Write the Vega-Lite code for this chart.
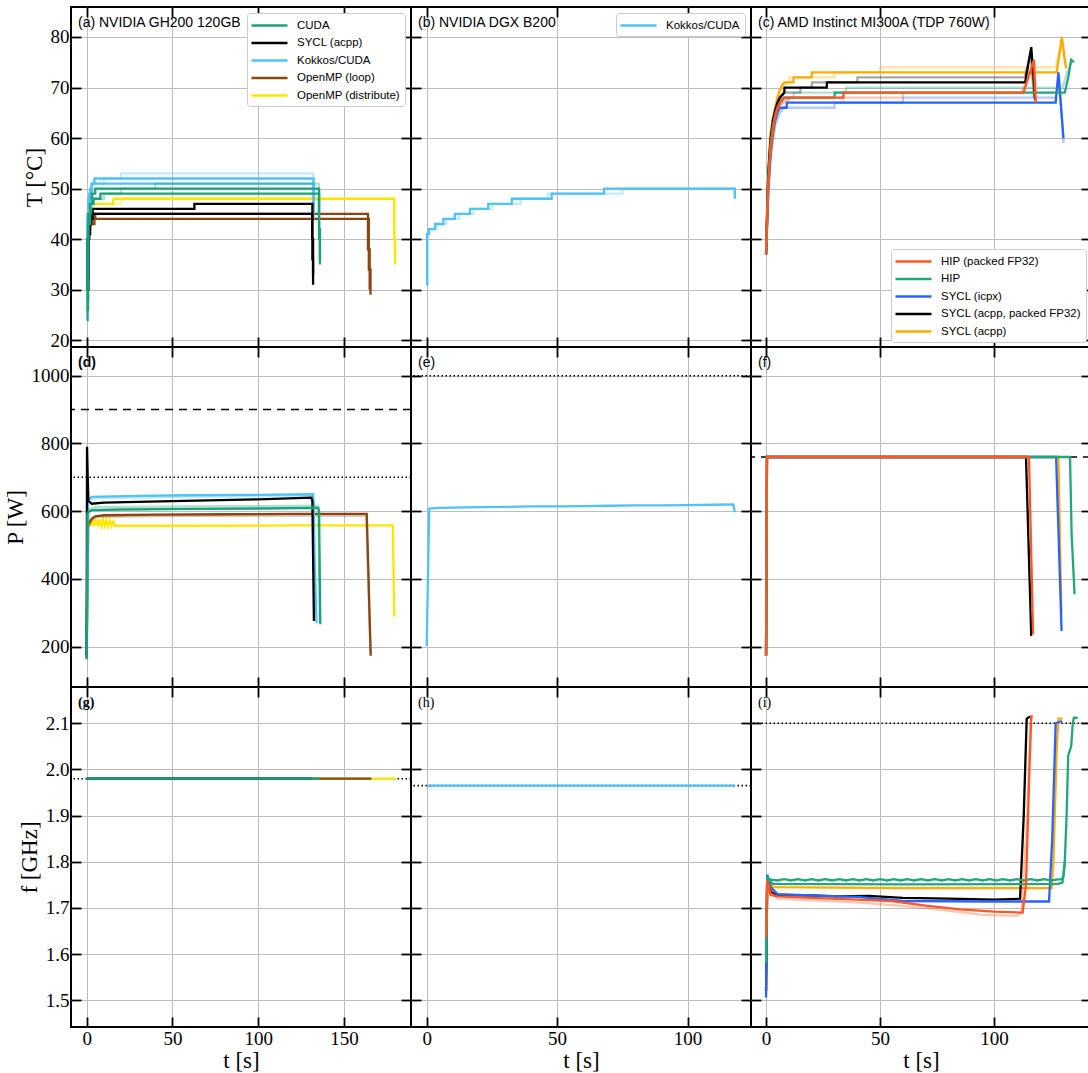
{
"$schema":"https://vega.github.io/schema/vega-lite/v6.json",
"padding":{"left":3,"top":5,"right":0,"bottom":0},
"background":"white",
"datasets":{
"Ta":[
{"t":0,"v":26,"s":"OpenMP (distribute)","r":"d1","k":"main"},{"t":0.5,"v":42,"s":"OpenMP (distribute)","r":"d1","k":"main"},{"t":1,"v":45,"s":"OpenMP (distribute)","r":"d1","k":"main"},{"t":2,"v":47,"s":"OpenMP (distribute)","r":"d1","k":"main"},{"t":15.5,"v":48,"s":"OpenMP (distribute)","r":"d1","k":"main"},{"t":179.3,"v":40,"s":"OpenMP (distribute)","r":"d1","k":"main"},{"t":179.8,"v":35,"s":"OpenMP (distribute)","r":"d1","k":"main"},
{"t":0,"v":30,"s":"OpenMP (distribute)","r":"d2","k":"rep"},{"t":1,"v":44,"s":"OpenMP (distribute)","r":"d2","k":"rep"},{"t":2.5,"v":47,"s":"OpenMP (distribute)","r":"d2","k":"rep"},{"t":20,"v":48,"s":"OpenMP (distribute)","r":"d2","k":"rep"},{"t":179.5,"v":37,"s":"OpenMP (distribute)","r":"d2","k":"rep"},
{"t":0,"v":30,"s":"OpenMP (loop)","r":"l1","k":"main"},{"t":0.7,"v":41,"s":"OpenMP (loop)","r":"l1","k":"main"},{"t":1.5,"v":43,"s":"OpenMP (loop)","r":"l1","k":"main"},{"t":3,"v":44,"s":"OpenMP (loop)","r":"l1","k":"main"},{"t":5,"v":45,"s":"OpenMP (loop)","r":"l1","k":"main"},{"t":164,"v":38,"s":"OpenMP (loop)","r":"l1","k":"main"},{"t":165,"v":30,"s":"OpenMP (loop)","r":"l1","k":"main"},
{"t":0,"v":32,"s":"OpenMP (loop)","r":"l2","k":"main"},{"t":1,"v":42,"s":"OpenMP (loop)","r":"l2","k":"main"},{"t":2,"v":43,"s":"OpenMP (loop)","r":"l2","k":"main"},{"t":4.5,"v":44,"s":"OpenMP (loop)","r":"l2","k":"main"},{"t":164.5,"v":34,"s":"OpenMP (loop)","r":"l2","k":"main"},{"t":165.5,"v":29,"s":"OpenMP (loop)","r":"l2","k":"main"},
{"t":0,"v":28,"s":"Kokkos/CUDA","r":"k1","k":"main"},{"t":0.5,"v":44,"s":"Kokkos/CUDA","r":"k1","k":"main"},{"t":1,"v":48,"s":"Kokkos/CUDA","r":"k1","k":"main"},{"t":2,"v":50,"s":"Kokkos/CUDA","r":"k1","k":"main"},{"t":3,"v":51,"s":"Kokkos/CUDA","r":"k1","k":"main"},{"t":4.5,"v":52,"s":"Kokkos/CUDA","r":"k1","k":"main"},{"t":132.3,"v":45,"s":"Kokkos/CUDA","r":"k1","k":"main"},
{"t":0,"v":30,"s":"Kokkos/CUDA","r":"k2","k":"main"},{"t":0.5,"v":45,"s":"Kokkos/CUDA","r":"k2","k":"main"},{"t":1.5,"v":49,"s":"Kokkos/CUDA","r":"k2","k":"main"},{"t":3,"v":51,"s":"Kokkos/CUDA","r":"k2","k":"main"},{"t":132.3,"v":44,"s":"Kokkos/CUDA","r":"k2","k":"main"},
{"t":0,"v":30,"s":"Kokkos/CUDA","r":"k3","k":"rep"},{"t":1,"v":47,"s":"Kokkos/CUDA","r":"k3","k":"rep"},{"t":3,"v":51,"s":"Kokkos/CUDA","r":"k3","k":"rep"},{"t":10,"v":52,"s":"Kokkos/CUDA","r":"k3","k":"rep"},{"t":20,"v":53,"s":"Kokkos/CUDA","r":"k3","k":"rep"},{"t":132,"v":46,"s":"Kokkos/CUDA","r":"k3","k":"rep"},
{"t":0,"v":30,"s":"SYCL (acpp)","r":"s1","k":"main"},{"t":0.5,"v":40,"s":"SYCL (acpp)","r":"s1","k":"main"},{"t":1.5,"v":43,"s":"SYCL (acpp)","r":"s1","k":"main"},{"t":2.5,"v":45,"s":"SYCL (acpp)","r":"s1","k":"main"},{"t":3.5,"v":46,"s":"SYCL (acpp)","r":"s1","k":"main"},{"t":62.8,"v":47,"s":"SYCL (acpp)","r":"s1","k":"main"},{"t":131.6,"v":36,"s":"SYCL (acpp)","r":"s1","k":"main"},{"t":132,"v":31,"s":"SYCL (acpp)","r":"s1","k":"main"},
{"t":0,"v":30,"s":"SYCL (acpp)","r":"s2","k":"main"},{"t":1,"v":41,"s":"SYCL (acpp)","r":"s2","k":"main"},{"t":2,"v":44,"s":"SYCL (acpp)","r":"s2","k":"main"},{"t":3.5,"v":45,"s":"SYCL (acpp)","r":"s2","k":"main"},{"t":131.5,"v":40,"s":"SYCL (acpp)","r":"s2","k":"main"},{"t":132,"v":33,"s":"SYCL (acpp)","r":"s2","k":"main"},
{"t":0,"v":24,"s":"CUDA","r":"c1","k":"main"},{"t":0.5,"v":40,"s":"CUDA","r":"c1","k":"main"},{"t":1,"v":45,"s":"CUDA","r":"c1","k":"main"},{"t":2,"v":47,"s":"CUDA","r":"c1","k":"main"},{"t":3,"v":49,"s":"CUDA","r":"c1","k":"main"},{"t":5,"v":50,"s":"CUDA","r":"c1","k":"main"},{"t":135.5,"v":42,"s":"CUDA","r":"c1","k":"main"},{"t":136,"v":35,"s":"CUDA","r":"c1","k":"main"},
{"t":0,"v":26,"s":"CUDA","r":"c2","k":"main"},{"t":0.8,"v":43,"s":"CUDA","r":"c2","k":"main"},{"t":2,"v":47,"s":"CUDA","r":"c2","k":"main"},{"t":4,"v":48,"s":"CUDA","r":"c2","k":"main"},{"t":8,"v":49,"s":"CUDA","r":"c2","k":"main"},{"t":135.5,"v":40,"s":"CUDA","r":"c2","k":"main"},{"t":136,"v":36,"s":"CUDA","r":"c2","k":"main"},
{"t":0,"v":28,"s":"CUDA","r":"c3","k":"rep"},{"t":1,"v":45,"s":"CUDA","r":"c3","k":"rep"},{"t":3,"v":48,"s":"CUDA","r":"c3","k":"rep"},{"t":10,"v":49,"s":"CUDA","r":"c3","k":"rep"},{"t":20,"v":50,"s":"CUDA","r":"c3","k":"rep"},{"t":40,"v":51,"s":"CUDA","r":"c3","k":"rep"},{"t":135.3,"v":45,"s":"CUDA","r":"c3","k":"rep"}
],
"Tb":[
{"t":0,"v":31,"s":"Kokkos/CUDA","r":"k1","k":"main"},{"t":0.2,"v":41,"s":"Kokkos/CUDA","r":"k1","k":"main"},{"t":0.8,"v":42,"s":"Kokkos/CUDA","r":"k1","k":"main"},{"t":3.2,"v":43,"s":"Kokkos/CUDA","r":"k1","k":"main"},{"t":6.4,"v":44,"s":"Kokkos/CUDA","r":"k1","k":"main"},{"t":10.8,"v":45,"s":"Kokkos/CUDA","r":"k1","k":"main"},{"t":16.6,"v":46,"s":"Kokkos/CUDA","r":"k1","k":"main"},{"t":23.6,"v":47,"s":"Kokkos/CUDA","r":"k1","k":"main"},{"t":32.6,"v":48,"s":"Kokkos/CUDA","r":"k1","k":"main"},{"t":47.9,"v":49,"s":"Kokkos/CUDA","r":"k1","k":"main"},{"t":68,"v":50,"s":"Kokkos/CUDA","r":"k1","k":"main"},{"t":118.1,"v":48,"s":"Kokkos/CUDA","r":"k1","k":"main"},
{"t":0,"v":31,"s":"Kokkos/CUDA","r":"k2","k":"rep"},{"t":0.3,"v":41,"s":"Kokkos/CUDA","r":"k2","k":"rep"},{"t":1,"v":42,"s":"Kokkos/CUDA","r":"k2","k":"rep"},{"t":4,"v":43,"s":"Kokkos/CUDA","r":"k2","k":"rep"},{"t":7.5,"v":44,"s":"Kokkos/CUDA","r":"k2","k":"rep"},{"t":12.5,"v":45,"s":"Kokkos/CUDA","r":"k2","k":"rep"},{"t":18,"v":46,"s":"Kokkos/CUDA","r":"k2","k":"rep"},{"t":25,"v":47,"s":"Kokkos/CUDA","r":"k2","k":"rep"},{"t":36,"v":48,"s":"Kokkos/CUDA","r":"k2","k":"rep"},{"t":46.5,"v":49,"s":"Kokkos/CUDA","r":"k2","k":"rep"},{"t":75,"v":50,"s":"Kokkos/CUDA","r":"k2","k":"rep"},{"t":118.2,"v":48,"s":"Kokkos/CUDA","r":"k2","k":"rep"}
],
"Tc":[
{"t":0,"v":38,"s":"SYCL (acpp)","r":"a1","k":"main"},{"t":0.5,"v":47,"s":"SYCL (acpp)","r":"a1","k":"main"},{"t":1,"v":54,"s":"SYCL (acpp)","r":"a1","k":"main"},{"t":1.5,"v":58,"s":"SYCL (acpp)","r":"a1","k":"main"},{"t":2,"v":61,"s":"SYCL (acpp)","r":"a1","k":"main"},{"t":3,"v":64,"s":"SYCL (acpp)","r":"a1","k":"main"},{"t":4,"v":66,"s":"SYCL (acpp)","r":"a1","k":"main"},{"t":5,"v":68,"s":"SYCL (acpp)","r":"a1","k":"main"},{"t":6,"v":69.5,"s":"SYCL (acpp)","r":"a1","k":"main"},{"t":7,"v":70.5,"s":"SYCL (acpp)","r":"a1","k":"main"},{"t":8,"v":71,"s":"SYCL (acpp)","r":"a1","k":"main"},{"t":12,"v":71,"s":"SYCL (acpp)","r":"a1","k":"main"},{"t":12.1,"v":72,"s":"SYCL (acpp)","r":"a1","k":"main"},{"t":20,"v":72,"s":"SYCL (acpp)","r":"a1","k":"main"},{"t":20.1,"v":73,"s":"SYCL (acpp)","r":"a1","k":"main"},{"t":127.5,"v":73,"s":"SYCL (acpp)","r":"a1","k":"main"},{"t":129.7,"v":80,"s":"SYCL (acpp)","r":"a1","k":"main"},{"t":131.5,"v":74,"s":"SYCL (acpp)","r":"a1","k":"main"},{"t":132,"v":74,"s":"SYCL (acpp)","r":"a1","k":"main"},
{"t":0,"v":37,"s":"SYCL (acpp)","r":"a2","k":"rep"},{"t":1,"v":52,"s":"SYCL (acpp)","r":"a2","k":"rep"},{"t":2,"v":60,"s":"SYCL (acpp)","r":"a2","k":"rep"},{"t":4,"v":66,"s":"SYCL (acpp)","r":"a2","k":"rep"},{"t":6,"v":69,"s":"SYCL (acpp)","r":"a2","k":"rep"},{"t":8,"v":70.5,"s":"SYCL (acpp)","r":"a2","k":"rep"},{"t":10,"v":71,"s":"SYCL (acpp)","r":"a2","k":"rep"},{"t":10.1,"v":72,"s":"SYCL (acpp)","r":"a2","k":"rep"},{"t":30,"v":72,"s":"SYCL (acpp)","r":"a2","k":"rep"},{"t":30.1,"v":73,"s":"SYCL (acpp)","r":"a2","k":"rep"},{"t":50,"v":73,"s":"SYCL (acpp)","r":"a2","k":"rep"},{"t":50.1,"v":74,"s":"SYCL (acpp)","r":"a2","k":"rep"},{"t":127,"v":74,"s":"SYCL (acpp)","r":"a2","k":"rep"},{"t":129.5,"v":79,"s":"SYCL (acpp)","r":"a2","k":"rep"},{"t":131,"v":75,"s":"SYCL (acpp)","r":"a2","k":"rep"},
{"t":0,"v":37,"s":"SYCL (acpp, packed FP32)","r":"p1","k":"main"},{"t":0.5,"v":46,"s":"SYCL (acpp, packed FP32)","r":"p1","k":"main"},{"t":1,"v":53,"s":"SYCL (acpp, packed FP32)","r":"p1","k":"main"},{"t":2,"v":60,"s":"SYCL (acpp, packed FP32)","r":"p1","k":"main"},{"t":3,"v":63.5,"s":"SYCL (acpp, packed FP32)","r":"p1","k":"main"},{"t":4,"v":65.5,"s":"SYCL (acpp, packed FP32)","r":"p1","k":"main"},{"t":5,"v":67,"s":"SYCL (acpp, packed FP32)","r":"p1","k":"main"},{"t":6,"v":68,"s":"SYCL (acpp, packed FP32)","r":"p1","k":"main"},{"t":8,"v":69,"s":"SYCL (acpp, packed FP32)","r":"p1","k":"main"},{"t":8.1,"v":70,"s":"SYCL (acpp, packed FP32)","r":"p1","k":"main"},{"t":26.6,"v":70,"s":"SYCL (acpp, packed FP32)","r":"p1","k":"main"},{"t":26.7,"v":71,"s":"SYCL (acpp, packed FP32)","r":"p1","k":"main"},{"t":113.6,"v":71,"s":"SYCL (acpp, packed FP32)","r":"p1","k":"main"},{"t":116.3,"v":78,"s":"SYCL (acpp, packed FP32)","r":"p1","k":"main"},{"t":118,"v":67.5,"s":"SYCL (acpp, packed FP32)","r":"p1","k":"main"},
{"t":0,"v":37,"s":"SYCL (acpp, packed FP32)","r":"p2","k":"rep"},{"t":1,"v":52,"s":"SYCL (acpp, packed FP32)","r":"p2","k":"rep"},{"t":2,"v":59,"s":"SYCL (acpp, packed FP32)","r":"p2","k":"rep"},{"t":4,"v":65,"s":"SYCL (acpp, packed FP32)","r":"p2","k":"rep"},{"t":6,"v":67.5,"s":"SYCL (acpp, packed FP32)","r":"p2","k":"rep"},{"t":8,"v":69,"s":"SYCL (acpp, packed FP32)","r":"p2","k":"rep"},{"t":15,"v":69,"s":"SYCL (acpp, packed FP32)","r":"p2","k":"rep"},{"t":15.1,"v":70,"s":"SYCL (acpp, packed FP32)","r":"p2","k":"rep"},{"t":20,"v":70,"s":"SYCL (acpp, packed FP32)","r":"p2","k":"rep"},{"t":20.1,"v":71,"s":"SYCL (acpp, packed FP32)","r":"p2","k":"rep"},{"t":40,"v":71,"s":"SYCL (acpp, packed FP32)","r":"p2","k":"rep"},{"t":40.1,"v":72,"s":"SYCL (acpp, packed FP32)","r":"p2","k":"rep"},{"t":113.5,"v":72,"s":"SYCL (acpp, packed FP32)","r":"p2","k":"rep"},{"t":116,"v":77,"s":"SYCL (acpp, packed FP32)","r":"p2","k":"rep"},{"t":117.5,"v":68,"s":"SYCL (acpp, packed FP32)","r":"p2","k":"rep"},
{"t":0,"v":37,"s":"SYCL (icpx)","r":"i1","k":"main"},{"t":0.5,"v":44,"s":"SYCL (icpx)","r":"i1","k":"main"},{"t":1,"v":50,"s":"SYCL (icpx)","r":"i1","k":"main"},{"t":2,"v":57,"s":"SYCL (icpx)","r":"i1","k":"main"},{"t":3,"v":61,"s":"SYCL (icpx)","r":"i1","k":"main"},{"t":4,"v":63.5,"s":"SYCL (icpx)","r":"i1","k":"main"},{"t":5,"v":65,"s":"SYCL (icpx)","r":"i1","k":"main"},{"t":6,"v":66,"s":"SYCL (icpx)","r":"i1","k":"main"},{"t":9,"v":66,"s":"SYCL (icpx)","r":"i1","k":"main"},{"t":9.1,"v":67,"s":"SYCL (icpx)","r":"i1","k":"main"},{"t":127,"v":67,"s":"SYCL (icpx)","r":"i1","k":"main"},{"t":128.2,"v":73,"s":"SYCL (icpx)","r":"i1","k":"main"},{"t":130.4,"v":60,"s":"SYCL (icpx)","r":"i1","k":"main"},
{"t":0,"v":37,"s":"SYCL (icpx)","r":"i2","k":"rep"},{"t":1,"v":49,"s":"SYCL (icpx)","r":"i2","k":"rep"},{"t":2,"v":56,"s":"SYCL (icpx)","r":"i2","k":"rep"},{"t":4,"v":62.5,"s":"SYCL (icpx)","r":"i2","k":"rep"},{"t":6,"v":65,"s":"SYCL (icpx)","r":"i2","k":"rep"},{"t":8,"v":66,"s":"SYCL (icpx)","r":"i2","k":"rep"},{"t":30,"v":66,"s":"SYCL (icpx)","r":"i2","k":"rep"},{"t":30.1,"v":67,"s":"SYCL (icpx)","r":"i2","k":"rep"},{"t":60,"v":67,"s":"SYCL (icpx)","r":"i2","k":"rep"},{"t":60.1,"v":68,"s":"SYCL (icpx)","r":"i2","k":"rep"},{"t":127,"v":68,"s":"SYCL (icpx)","r":"i2","k":"rep"},{"t":128.5,"v":72,"s":"SYCL (icpx)","r":"i2","k":"rep"},{"t":130.5,"v":59,"s":"SYCL (icpx)","r":"i2","k":"rep"},
{"t":0,"v":37,"s":"HIP","r":"h1","k":"main"},{"t":0.5,"v":45,"s":"HIP","r":"h1","k":"main"},{"t":1,"v":52,"s":"HIP","r":"h1","k":"main"},{"t":2,"v":59,"s":"HIP","r":"h1","k":"main"},{"t":3,"v":62.5,"s":"HIP","r":"h1","k":"main"},{"t":4,"v":64.5,"s":"HIP","r":"h1","k":"main"},{"t":5,"v":66,"s":"HIP","r":"h1","k":"main"},{"t":6,"v":67,"s":"HIP","r":"h1","k":"main"},{"t":8,"v":68,"s":"HIP","r":"h1","k":"main"},{"t":30,"v":68,"s":"HIP","r":"h1","k":"main"},{"t":30.1,"v":69,"s":"HIP","r":"h1","k":"main"},{"t":131,"v":69,"s":"HIP","r":"h1","k":"main"},{"t":132.5,"v":72,"s":"HIP","r":"h1","k":"main"},{"t":133.8,"v":75.5,"s":"HIP","r":"h1","k":"main"},{"t":135,"v":75,"s":"HIP","r":"h1","k":"main"},
{"t":0,"v":37,"s":"HIP","r":"h2","k":"rep"},{"t":1,"v":51,"s":"HIP","r":"h2","k":"rep"},{"t":2,"v":58,"s":"HIP","r":"h2","k":"rep"},{"t":4,"v":64,"s":"HIP","r":"h2","k":"rep"},{"t":6,"v":66.5,"s":"HIP","r":"h2","k":"rep"},{"t":8,"v":67.5,"s":"HIP","r":"h2","k":"rep"},{"t":12,"v":68,"s":"HIP","r":"h2","k":"rep"},{"t":12.1,"v":69,"s":"HIP","r":"h2","k":"rep"},{"t":35,"v":69,"s":"HIP","r":"h2","k":"rep"},{"t":35.1,"v":70,"s":"HIP","r":"h2","k":"rep"},{"t":128,"v":70,"s":"HIP","r":"h2","k":"rep"},{"t":130,"v":70,"s":"HIP","r":"h2","k":"rep"},{"t":132,"v":73,"s":"HIP","r":"h2","k":"rep"},{"t":134,"v":75,"s":"HIP","r":"h2","k":"rep"},
{"t":0,"v":37,"s":"HIP (packed FP32)","r":"q1","k":"main"},{"t":0.5,"v":44,"s":"HIP (packed FP32)","r":"q1","k":"main"},{"t":1,"v":51,"s":"HIP (packed FP32)","r":"q1","k":"main"},{"t":2,"v":58,"s":"HIP (packed FP32)","r":"q1","k":"main"},{"t":3,"v":62,"s":"HIP (packed FP32)","r":"q1","k":"main"},{"t":4,"v":64.5,"s":"HIP (packed FP32)","r":"q1","k":"main"},{"t":5,"v":66,"s":"HIP (packed FP32)","r":"q1","k":"main"},{"t":6,"v":67,"s":"HIP (packed FP32)","r":"q1","k":"main"},{"t":8,"v":68,"s":"HIP (packed FP32)","r":"q1","k":"main"},{"t":33.9,"v":68,"s":"HIP (packed FP32)","r":"q1","k":"main"},{"t":34,"v":69,"s":"HIP (packed FP32)","r":"q1","k":"main"},{"t":112.9,"v":69,"s":"HIP (packed FP32)","r":"q1","k":"main"},{"t":117.5,"v":75.5,"s":"HIP (packed FP32)","r":"q1","k":"main"},{"t":118.3,"v":67,"s":"HIP (packed FP32)","r":"q1","k":"main"},
{"t":0,"v":37,"s":"HIP (packed FP32)","r":"q2","k":"rep"},{"t":1,"v":50,"s":"HIP (packed FP32)","r":"q2","k":"rep"},{"t":2,"v":57,"s":"HIP (packed FP32)","r":"q2","k":"rep"},{"t":4,"v":64,"s":"HIP (packed FP32)","r":"q2","k":"rep"},{"t":6,"v":66.5,"s":"HIP (packed FP32)","r":"q2","k":"rep"},{"t":10,"v":67.5,"s":"HIP (packed FP32)","r":"q2","k":"rep"},{"t":10.1,"v":68,"s":"HIP (packed FP32)","r":"q2","k":"rep"},{"t":60,"v":68,"s":"HIP (packed FP32)","r":"q2","k":"rep"},{"t":60.1,"v":69,"s":"HIP (packed FP32)","r":"q2","k":"rep"},{"t":112,"v":69,"s":"HIP (packed FP32)","r":"q2","k":"rep"},{"t":117,"v":74,"s":"HIP (packed FP32)","r":"q2","k":"rep"},{"t":118,"v":68,"s":"HIP (packed FP32)","r":"q2","k":"rep"}
],
"Pd":[
{"t":0,"v":165,"s":"OpenMP (distribute)","r":"d1","k":"main"},{"t":0.5,"v":550,"s":"OpenMP (distribute)","r":"d1","k":"main"},{"t":1.5,"v":575,"s":"OpenMP (distribute)","r":"d1","k":"main"},{"t":2.5,"v":556,"s":"OpenMP (distribute)","r":"d1","k":"main"},{"t":3.5,"v":578,"s":"OpenMP (distribute)","r":"d1","k":"main"},{"t":4.5,"v":556,"s":"OpenMP (distribute)","r":"d1","k":"main"},{"t":5.5,"v":577,"s":"OpenMP (distribute)","r":"d1","k":"main"},{"t":6.5,"v":556,"s":"OpenMP (distribute)","r":"d1","k":"main"},{"t":7.5,"v":576,"s":"OpenMP (distribute)","r":"d1","k":"main"},{"t":8.5,"v":556,"s":"OpenMP (distribute)","r":"d1","k":"main"},{"t":9.5,"v":575,"s":"OpenMP (distribute)","r":"d1","k":"main"},{"t":10.5,"v":556,"s":"OpenMP (distribute)","r":"d1","k":"main"},{"t":11.5,"v":574,"s":"OpenMP (distribute)","r":"d1","k":"main"},{"t":12.5,"v":556,"s":"OpenMP (distribute)","r":"d1","k":"main"},{"t":13.5,"v":573,"s":"OpenMP (distribute)","r":"d1","k":"main"},{"t":14.5,"v":557,"s":"OpenMP (distribute)","r":"d1","k":"main"},{"t":15.5,"v":570,"s":"OpenMP (distribute)","r":"d1","k":"main"},{"t":16.5,"v":557,"s":"OpenMP (distribute)","r":"d1","k":"main"},{"t":18,"v":557,"s":"OpenMP (distribute)","r":"d1","k":"main"},{"t":60,"v":557,"s":"OpenMP (distribute)","r":"d1","k":"main"},{"t":120,"v":558,"s":"OpenMP (distribute)","r":"d1","k":"main"},{"t":178.5,"v":558,"s":"OpenMP (distribute)","r":"d1","k":"main"},{"t":179.3,"v":293,"s":"OpenMP (distribute)","r":"d1","k":"main"},{"t":179.8,"v":290,"s":"OpenMP (distribute)","r":"d1","k":"main"},
{"t":0,"v":165,"s":"OpenMP (loop)","r":"l1","k":"main"},{"t":0.5,"v":545,"s":"OpenMP (loop)","r":"l1","k":"main"},{"t":1,"v":560,"s":"OpenMP (loop)","r":"l1","k":"main"},{"t":2,"v":570,"s":"OpenMP (loop)","r":"l1","k":"main"},{"t":3,"v":578,"s":"OpenMP (loop)","r":"l1","k":"main"},{"t":5,"v":585,"s":"OpenMP (loop)","r":"l1","k":"main"},{"t":10,"v":588,"s":"OpenMP (loop)","r":"l1","k":"main"},{"t":40,"v":590,"s":"OpenMP (loop)","r":"l1","k":"main"},{"t":80,"v":591,"s":"OpenMP (loop)","r":"l1","k":"main"},{"t":120,"v":592,"s":"OpenMP (loop)","r":"l1","k":"main"},{"t":163.3,"v":592,"s":"OpenMP (loop)","r":"l1","k":"main"},{"t":165.6,"v":173,"s":"OpenMP (loop)","r":"l1","k":"main"},
{"t":0,"v":170,"s":"OpenMP (loop)","r":"l2","k":"rep"},{"t":1,"v":555,"s":"OpenMP (loop)","r":"l2","k":"rep"},{"t":3,"v":575,"s":"OpenMP (loop)","r":"l2","k":"rep"},{"t":6,"v":583,"s":"OpenMP (loop)","r":"l2","k":"rep"},{"t":50,"v":586,"s":"OpenMP (loop)","r":"l2","k":"rep"},{"t":100,"v":587,"s":"OpenMP (loop)","r":"l2","k":"rep"},{"t":163,"v":588,"s":"OpenMP (loop)","r":"l2","k":"rep"},{"t":165.5,"v":180,"s":"OpenMP (loop)","r":"l2","k":"rep"},
{"t":0,"v":170,"s":"Kokkos/CUDA","r":"k1","k":"main"},{"t":0.5,"v":600,"s":"Kokkos/CUDA","r":"k1","k":"main"},{"t":1,"v":635,"s":"Kokkos/CUDA","r":"k1","k":"main"},{"t":3,"v":642,"s":"Kokkos/CUDA","r":"k1","k":"main"},{"t":30,"v":645,"s":"Kokkos/CUDA","r":"k1","k":"main"},{"t":60,"v":647,"s":"Kokkos/CUDA","r":"k1","k":"main"},{"t":100,"v":648,"s":"Kokkos/CUDA","r":"k1","k":"main"},{"t":132,"v":650,"s":"Kokkos/CUDA","r":"k1","k":"main"},{"t":132.4,"v":620,"s":"Kokkos/CUDA","r":"k1","k":"main"},{"t":133,"v":440,"s":"Kokkos/CUDA","r":"k1","k":"main"},{"t":134,"v":270,"s":"Kokkos/CUDA","r":"k1","k":"main"},
{"t":0,"v":170,"s":"Kokkos/CUDA","r":"k2","k":"rep"},{"t":1,"v":630,"s":"Kokkos/CUDA","r":"k2","k":"rep"},{"t":5,"v":638,"s":"Kokkos/CUDA","r":"k2","k":"rep"},{"t":60,"v":642,"s":"Kokkos/CUDA","r":"k2","k":"rep"},{"t":131.5,"v":645,"s":"Kokkos/CUDA","r":"k2","k":"rep"},{"t":133,"v":300,"s":"Kokkos/CUDA","r":"k2","k":"rep"},
{"t":0,"v":170,"s":"SYCL (acpp)","r":"s1","k":"main"},{"t":0.2,"v":790,"s":"SYCL (acpp)","r":"s1","k":"main"},{"t":0.6,"v":700,"s":"SYCL (acpp)","r":"s1","k":"main"},{"t":1,"v":630,"s":"SYCL (acpp)","r":"s1","k":"main"},{"t":3,"v":622,"s":"SYCL (acpp)","r":"s1","k":"main"},{"t":10,"v":625,"s":"SYCL (acpp)","r":"s1","k":"main"},{"t":50,"v":630,"s":"SYCL (acpp)","r":"s1","k":"main"},{"t":100,"v":635,"s":"SYCL (acpp)","r":"s1","k":"main"},{"t":131,"v":640,"s":"SYCL (acpp)","r":"s1","k":"main"},{"t":131.6,"v":630,"s":"SYCL (acpp)","r":"s1","k":"main"},{"t":132.5,"v":276,"s":"SYCL (acpp)","r":"s1","k":"main"},
{"t":0,"v":163,"s":"CUDA","r":"c1","k":"main"},{"t":0.4,"v":590,"s":"CUDA","r":"c1","k":"main"},{"t":1,"v":598,"s":"CUDA","r":"c1","k":"main"},{"t":3,"v":603,"s":"CUDA","r":"c1","k":"main"},{"t":20,"v":605,"s":"CUDA","r":"c1","k":"main"},{"t":60,"v":607,"s":"CUDA","r":"c1","k":"main"},{"t":100,"v":608,"s":"CUDA","r":"c1","k":"main"},{"t":135,"v":610,"s":"CUDA","r":"c1","k":"main"},{"t":135.5,"v":600,"s":"CUDA","r":"c1","k":"main"},{"t":136.2,"v":266,"s":"CUDA","r":"c1","k":"main"},
{"t":0,"v":165,"s":"CUDA","r":"c2","k":"rep"},{"t":1,"v":605,"s":"CUDA","r":"c2","k":"rep"},{"t":5,"v":612,"s":"CUDA","r":"c2","k":"rep"},{"t":60,"v":614,"s":"CUDA","r":"c2","k":"rep"},{"t":135,"v":616,"s":"CUDA","r":"c2","k":"rep"},{"t":136,"v":270,"s":"CUDA","r":"c2","k":"rep"}
],
"Pe":[
{"t":0,"v":202,"s":"Kokkos/CUDA","r":"k1","k":"main"},{"t":1,"v":608,"s":"Kokkos/CUDA","r":"k1","k":"main"},{"t":5,"v":610,"s":"Kokkos/CUDA","r":"k1","k":"main"},{"t":15,"v":611,"s":"Kokkos/CUDA","r":"k1","k":"main"},{"t":20,"v":612,"s":"Kokkos/CUDA","r":"k1","k":"main"},{"t":30,"v":612.5,"s":"Kokkos/CUDA","r":"k1","k":"main"},{"t":40,"v":614,"s":"Kokkos/CUDA","r":"k1","k":"main"},{"t":50,"v":614,"s":"Kokkos/CUDA","r":"k1","k":"main"},{"t":60,"v":615,"s":"Kokkos/CUDA","r":"k1","k":"main"},{"t":70,"v":616,"s":"Kokkos/CUDA","r":"k1","k":"main"},{"t":80,"v":617,"s":"Kokkos/CUDA","r":"k1","k":"main"},{"t":90,"v":617,"s":"Kokkos/CUDA","r":"k1","k":"main"},{"t":100,"v":618,"s":"Kokkos/CUDA","r":"k1","k":"main"},{"t":110,"v":619,"s":"Kokkos/CUDA","r":"k1","k":"main"},{"t":117.5,"v":620,"s":"Kokkos/CUDA","r":"k1","k":"main"},{"t":118.1,"v":597,"s":"Kokkos/CUDA","r":"k1","k":"main"}
],
"Pf":[
{"t":0,"v":173,"s":"SYCL (acpp)","r":"a1","k":"main"},{"t":0.4,"v":760,"s":"SYCL (acpp)","r":"a1","k":"main"},{"t":128.2,"v":760,"s":"SYCL (acpp)","r":"a1","k":"main"},{"t":129.5,"v":300,"s":"SYCL (acpp)","r":"a1","k":"main"},
{"t":0,"v":173,"s":"SYCL (acpp, packed FP32)","r":"p1","k":"main"},{"t":0.4,"v":760,"s":"SYCL (acpp, packed FP32)","r":"p1","k":"main"},{"t":114,"v":760,"s":"SYCL (acpp, packed FP32)","r":"p1","k":"main"},{"t":116.3,"v":232,"s":"SYCL (acpp, packed FP32)","r":"p1","k":"main"},
{"t":0,"v":173,"s":"SYCL (icpx)","r":"i1","k":"main"},{"t":0.4,"v":760,"s":"SYCL (icpx)","r":"i1","k":"main"},{"t":127.2,"v":760,"s":"SYCL (icpx)","r":"i1","k":"main"},{"t":129.6,"v":246,"s":"SYCL (icpx)","r":"i1","k":"main"},
{"t":0,"v":173,"s":"HIP","r":"h1","k":"main"},{"t":0.4,"v":760,"s":"HIP","r":"h1","k":"main"},{"t":133.3,"v":760,"s":"HIP","r":"h1","k":"main"},{"t":134,"v":532,"s":"HIP","r":"h1","k":"main"},{"t":135.3,"v":355,"s":"HIP","r":"h1","k":"main"},
{"t":0,"v":173,"s":"HIP (packed FP32)","r":"q1","k":"main"},{"t":0.4,"v":760,"s":"HIP (packed FP32)","r":"q1","k":"main"},{"t":115.3,"v":760,"s":"HIP (packed FP32)","r":"q1","k":"main"},{"t":117.1,"v":237,"s":"HIP (packed FP32)","r":"q1","k":"main"}
],
"Fg":[
{"t":0,"v":1.98,"s":"OpenMP (distribute)","r":"d1","k":"main"},{"t":180.5,"v":1.98,"s":"OpenMP (distribute)","r":"d1","k":"main"},
{"t":0,"v":1.98,"s":"OpenMP (loop)","r":"l1","k":"main"},{"t":166,"v":1.98,"s":"OpenMP (loop)","r":"l1","k":"main"},
{"t":0,"v":1.98,"s":"Kokkos/CUDA","r":"k1","k":"main"},{"t":132.3,"v":1.98,"s":"Kokkos/CUDA","r":"k1","k":"main"},
{"t":0,"v":1.98,"s":"SYCL (acpp)","r":"s1","k":"main"},{"t":131.6,"v":1.98,"s":"SYCL (acpp)","r":"s1","k":"main"},
{"t":0,"v":1.98,"s":"CUDA","r":"c1","k":"main"},{"t":136,"v":1.98,"s":"CUDA","r":"c1","k":"main"}
],
"Fh":[
{"t":0,"v":1.965,"s":"Kokkos/CUDA","r":"k1","k":"main"},{"t":118.1,"v":1.965,"s":"Kokkos/CUDA","r":"k1","k":"main"}
],
"Fi":[
{"t":0,"v":1.52,"s":"SYCL (acpp)","r":"a1","k":"main"},{"t":0.5,"v":1.77,"s":"SYCL (acpp)","r":"a1","k":"main"},{"t":1.5,"v":1.755,"s":"SYCL (acpp)","r":"a1","k":"main"},{"t":3,"v":1.745,"s":"SYCL (acpp)","r":"a1","k":"main"},{"t":60,"v":1.743,"s":"SYCL (acpp)","r":"a1","k":"main"},{"t":125.3,"v":1.743,"s":"SYCL (acpp)","r":"a1","k":"main"},{"t":126,"v":1.8,"s":"SYCL (acpp)","r":"a1","k":"main"},{"t":127.5,"v":2.05,"s":"SYCL (acpp)","r":"a1","k":"main"},{"t":128.2,"v":2.11,"s":"SYCL (acpp)","r":"a1","k":"main"},{"t":130,"v":2.11,"s":"SYCL (acpp)","r":"a1","k":"main"},
{"t":0,"v":1.52,"s":"SYCL (acpp, packed FP32)","r":"p1","k":"main"},{"t":0.5,"v":1.77,"s":"SYCL (acpp, packed FP32)","r":"p1","k":"main"},{"t":2,"v":1.735,"s":"SYCL (acpp, packed FP32)","r":"p1","k":"main"},{"t":5,"v":1.728,"s":"SYCL (acpp, packed FP32)","r":"p1","k":"main"},{"t":20,"v":1.727,"s":"SYCL (acpp, packed FP32)","r":"p1","k":"main"},{"t":30,"v":1.725,"s":"SYCL (acpp, packed FP32)","r":"p1","k":"main"},{"t":45,"v":1.726,"s":"SYCL (acpp, packed FP32)","r":"p1","k":"main"},{"t":60,"v":1.722,"s":"SYCL (acpp, packed FP32)","r":"p1","k":"main"},{"t":80,"v":1.72,"s":"SYCL (acpp, packed FP32)","r":"p1","k":"main"},{"t":100,"v":1.718,"s":"SYCL (acpp, packed FP32)","r":"p1","k":"main"},{"t":111.4,"v":1.72,"s":"SYCL (acpp, packed FP32)","r":"p1","k":"main"},{"t":113,"v":1.9,"s":"SYCL (acpp, packed FP32)","r":"p1","k":"main"},{"t":114.3,"v":2.11,"s":"SYCL (acpp, packed FP32)","r":"p1","k":"main"},{"t":115.8,"v":2.115,"s":"SYCL (acpp, packed FP32)","r":"p1","k":"main"},
{"t":0,"v":1.506,"s":"SYCL (icpx)","r":"i1","k":"main"},{"t":0.5,"v":1.772,"s":"SYCL (icpx)","r":"i1","k":"main"},{"t":2,"v":1.745,"s":"SYCL (icpx)","r":"i1","k":"main"},{"t":5,"v":1.73,"s":"SYCL (icpx)","r":"i1","k":"main"},{"t":20,"v":1.727,"s":"SYCL (icpx)","r":"i1","k":"main"},{"t":40,"v":1.724,"s":"SYCL (icpx)","r":"i1","k":"main"},{"t":60,"v":1.715,"s":"SYCL (icpx)","r":"i1","k":"main"},{"t":100,"v":1.714,"s":"SYCL (icpx)","r":"i1","k":"main"},{"t":124.1,"v":1.714,"s":"SYCL (icpx)","r":"i1","k":"main"},{"t":125.5,"v":1.85,"s":"SYCL (icpx)","r":"i1","k":"main"},{"t":127,"v":2.1,"s":"SYCL (icpx)","r":"i1","k":"main"},{"t":129.8,"v":2.105,"s":"SYCL (icpx)","r":"i1","k":"main"},
{"t":0,"v":1.6,"s":"HIP","r":"h2","k":"main"},{"t":0.5,"v":1.765,"s":"HIP","r":"h2","k":"main"},{"t":3,"v":1.752,"s":"HIP","r":"h2","k":"main"},{"t":60,"v":1.751,"s":"HIP","r":"h2","k":"main"},{"t":128,"v":1.752,"s":"HIP","r":"h2","k":"main"},{"t":130,"v":1.755,"s":"HIP","r":"h2","k":"main"},{"t":131,"v":1.8,"s":"HIP","r":"h2","k":"main"},
{"t":0,"v":1.58,"s":"HIP","r":"h1","k":"main"},{"t":0.5,"v":1.765,"s":"HIP","r":"h1","k":"main"},{"t":2.5,"v":1.761,"s":"HIP","r":"h1","k":"main"},{"t":5,"v":1.7595,"s":"HIP","r":"h1","k":"main"},{"t":8,"v":1.7625,"s":"HIP","r":"h1","k":"main"},{"t":11,"v":1.7595,"s":"HIP","r":"h1","k":"main"},{"t":14,"v":1.7625,"s":"HIP","r":"h1","k":"main"},{"t":17,"v":1.7595,"s":"HIP","r":"h1","k":"main"},{"t":20,"v":1.7625,"s":"HIP","r":"h1","k":"main"},{"t":23,"v":1.7595,"s":"HIP","r":"h1","k":"main"},{"t":26,"v":1.7625,"s":"HIP","r":"h1","k":"main"},{"t":29,"v":1.7595,"s":"HIP","r":"h1","k":"main"},{"t":32,"v":1.7625,"s":"HIP","r":"h1","k":"main"},{"t":35,"v":1.7595,"s":"HIP","r":"h1","k":"main"},{"t":38,"v":1.7625,"s":"HIP","r":"h1","k":"main"},{"t":41,"v":1.7595,"s":"HIP","r":"h1","k":"main"},{"t":44,"v":1.7625,"s":"HIP","r":"h1","k":"main"},{"t":47,"v":1.7595,"s":"HIP","r":"h1","k":"main"},{"t":50,"v":1.7625,"s":"HIP","r":"h1","k":"main"},{"t":53,"v":1.7595,"s":"HIP","r":"h1","k":"main"},{"t":56,"v":1.7625,"s":"HIP","r":"h1","k":"main"},{"t":59,"v":1.7595,"s":"HIP","r":"h1","k":"main"},{"t":62,"v":1.7625,"s":"HIP","r":"h1","k":"main"},{"t":65,"v":1.7595,"s":"HIP","r":"h1","k":"main"},{"t":68,"v":1.7625,"s":"HIP","r":"h1","k":"main"},{"t":71,"v":1.7595,"s":"HIP","r":"h1","k":"main"},{"t":74,"v":1.7625,"s":"HIP","r":"h1","k":"main"},{"t":77,"v":1.7595,"s":"HIP","r":"h1","k":"main"},{"t":80,"v":1.7625,"s":"HIP","r":"h1","k":"main"},{"t":83,"v":1.7595,"s":"HIP","r":"h1","k":"main"},{"t":86,"v":1.7625,"s":"HIP","r":"h1","k":"main"},{"t":89,"v":1.7595,"s":"HIP","r":"h1","k":"main"},{"t":92,"v":1.7625,"s":"HIP","r":"h1","k":"main"},{"t":95,"v":1.7595,"s":"HIP","r":"h1","k":"main"},{"t":98,"v":1.7625,"s":"HIP","r":"h1","k":"main"},{"t":101,"v":1.7595,"s":"HIP","r":"h1","k":"main"},{"t":104,"v":1.7625,"s":"HIP","r":"h1","k":"main"},{"t":107,"v":1.7595,"s":"HIP","r":"h1","k":"main"},{"t":110,"v":1.7625,"s":"HIP","r":"h1","k":"main"},{"t":113,"v":1.7595,"s":"HIP","r":"h1","k":"main"},{"t":116,"v":1.7625,"s":"HIP","r":"h1","k":"main"},{"t":119,"v":1.7595,"s":"HIP","r":"h1","k":"main"},{"t":122,"v":1.7625,"s":"HIP","r":"h1","k":"main"},{"t":125,"v":1.7595,"s":"HIP","r":"h1","k":"main"},{"t":128,"v":1.762,"s":"HIP","r":"h1","k":"main"},{"t":129.7,"v":1.762,"s":"HIP","r":"h1","k":"main"},{"t":130.5,"v":1.77,"s":"HIP","r":"h1","k":"main"},{"t":131,"v":1.8,"s":"HIP","r":"h1","k":"main"},{"t":131.8,"v":1.9,"s":"HIP","r":"h1","k":"main"},{"t":132.5,"v":2.03,"s":"HIP","r":"h1","k":"main"},{"t":133.8,"v":2.05,"s":"HIP","r":"h1","k":"main"},{"t":134.5,"v":2.1,"s":"HIP","r":"h1","k":"main"},{"t":135,"v":2.112,"s":"HIP","r":"h1","k":"main"},{"t":136.6,"v":2.112,"s":"HIP","r":"h1","k":"main"},
{"t":0,"v":1.65,"s":"HIP (packed FP32)","r":"q2","k":"rep"},{"t":1,"v":1.75,"s":"HIP (packed FP32)","r":"q2","k":"rep"},{"t":5,"v":1.72,"s":"HIP (packed FP32)","r":"q2","k":"rep"},{"t":40,"v":1.712,"s":"HIP (packed FP32)","r":"q2","k":"rep"},{"t":70,"v":1.7,"s":"HIP (packed FP32)","r":"q2","k":"rep"},{"t":95,"v":1.685,"s":"HIP (packed FP32)","r":"q2","k":"rep"},{"t":110,"v":1.683,"s":"HIP (packed FP32)","r":"q2","k":"rep"},{"t":112,"v":1.69,"s":"HIP (packed FP32)","r":"q2","k":"rep"},{"t":114.5,"v":1.9,"s":"HIP (packed FP32)","r":"q2","k":"rep"},{"t":116,"v":2.1,"s":"HIP (packed FP32)","r":"q2","k":"rep"},
{"t":0,"v":1.636,"s":"HIP (packed FP32)","r":"q1","k":"main"},{"t":0.5,"v":1.76,"s":"HIP (packed FP32)","r":"q1","k":"main"},{"t":2,"v":1.728,"s":"HIP (packed FP32)","r":"q1","k":"main"},{"t":5,"v":1.725,"s":"HIP (packed FP32)","r":"q1","k":"main"},{"t":20,"v":1.722,"s":"HIP (packed FP32)","r":"q1","k":"main"},{"t":40,"v":1.718,"s":"HIP (packed FP32)","r":"q1","k":"main"},{"t":55,"v":1.715,"s":"HIP (packed FP32)","r":"q1","k":"main"},{"t":70,"v":1.705,"s":"HIP (packed FP32)","r":"q1","k":"main"},{"t":85,"v":1.697,"s":"HIP (packed FP32)","r":"q1","k":"main"},{"t":100,"v":1.692,"s":"HIP (packed FP32)","r":"q1","k":"main"},{"t":112.5,"v":1.69,"s":"HIP (packed FP32)","r":"q1","k":"main"},{"t":114,"v":1.75,"s":"HIP (packed FP32)","r":"q1","k":"main"},{"t":115.5,"v":2.0,"s":"HIP (packed FP32)","r":"q1","k":"main"},{"t":116.3,"v":2.115,"s":"HIP (packed FP32)","r":"q1","k":"main"},{"t":117,"v":2.115,"s":"HIP (packed FP32)","r":"q1","k":"main"}
]
},
"concat":[
{"width":340,"height":340,"title":{"text":"(a) NVIDIA GH200 120GB"},
 "layer":[
  {"data":{"name":"Ta"},"mark":{"type":"line","interpolate":"step-after","strokeWidth":2.3},
   "encoding":{
    "x":{"field":"t","type":"quantitative","scale":{"domain":[-9.15,189.1],"nice":false,"zero":false},"axis":{"orient":"bottom","values":[0,50,100,150],"labels":false,"title":null,"grid":true}},
    "y":{"field":"v","type":"quantitative","scale":{"domain":[18.67,85.93],"nice":false,"zero":false},"axis":{"orient":"left","values":[20,30,40,50,60,70,80],"format":"d","title":"T [°C]","grid":true}},
    "color":{"field":"s","type":"nominal","scale":{"domain":["CUDA","SYCL (acpp)","Kokkos/CUDA","OpenMP (loop)","OpenMP (distribute)"],"range":["#1aa37a","#000000","#4fc3f7","#8b4513","#ffe600"]},
      "legend":{"orient":"top-right","offset":6,"title":null,"symbolType":"M-3,0H3","symbolSize":144,"symbolStrokeWidth":2.3,"symbolOffset":10,"labelOffset":20,"rowPadding":4.5,"padding":5,"fillColor":"white","strokeColor":"#cccccc","cornerRadius":3,"labelFont":"Liberation Sans","labelFontSize":11.5,"labelColor":"black","labelLimit":300}},
    "detail":{"field":"r","type":"nominal"},
    "opacity":{"field":"k","type":"ordinal","scale":{"domain":["main","rep"],"range":[1,0.35]},"legend":null}}},
  {"data":{"values":[]},"mark":"point","encoding":{
    "x":{"field":"t","type":"quantitative","scale":{"domain":[-9.15,189.1],"nice":false,"zero":false},"axis":{"orient":"top","values":[0,50,100,150],"labels":false,"title":null,"grid":false}},
    "y":{"field":"v","type":"quantitative","scale":{"domain":[18.67,85.93],"nice":false,"zero":false},"axis":{"orient":"right","values":[20,30,40,50,60,70,80],"labels":false,"title":null,"grid":false}}}}
 ],
 "resolve":{"axis":{"x":"independent","y":"independent"}}},
{"width":340,"height":340,"title":{"text":"(b) NVIDIA DGX B200"},
 "layer":[
  {"data":{"name":"Tb"},"mark":{"type":"line","interpolate":"step-after","strokeWidth":2.3},
   "encoding":{
    "x":{"field":"t","type":"quantitative","scale":{"domain":[-6.0,124.3],"nice":false,"zero":false},"axis":{"orient":"bottom","values":[0,50,100],"labels":false,"title":null,"grid":true}},
    "y":{"field":"v","type":"quantitative","scale":{"domain":[18.67,85.93],"nice":false,"zero":false},"axis":{"orient":"left","values":[20,30,40,50,60,70,80],"labels":false,"title":null,"grid":true}},
    "color":{"field":"s","type":"nominal","scale":{"domain":["Kokkos/CUDA"],"range":["#4fc3f7"]},
      "legend":{"orient":"top-right","offset":6,"title":null,"symbolType":"M-3,0H3","symbolSize":144,"symbolStrokeWidth":2.3,"symbolOffset":10,"labelOffset":20,"rowPadding":4.5,"padding":5,"fillColor":"white","strokeColor":"#cccccc","cornerRadius":3,"labelFont":"Liberation Sans","labelFontSize":11.5,"labelColor":"black","labelLimit":300}},
    "detail":{"field":"r","type":"nominal"},
    "opacity":{"field":"k","type":"ordinal","scale":{"domain":["main","rep"],"range":[1,0.35]},"legend":null}}},
  {"data":{"values":[]},"mark":"point","encoding":{
    "x":{"field":"t","type":"quantitative","scale":{"domain":[-6.0,124.3],"nice":false,"zero":false},"axis":{"orient":"top","values":[0,50,100],"labels":false,"title":null,"grid":false}},
    "y":{"field":"v","type":"quantitative","scale":{"domain":[18.67,85.93],"nice":false,"zero":false},"axis":{"orient":"right","values":[20,30,40,50,60,70,80],"labels":false,"title":null,"grid":false}}}}
 ],
 "resolve":{"axis":{"x":"independent","y":"independent"}}},
{"width":340,"height":340,"title":{"text":"(c) AMD Instinct MI300A (TDP 760W)"},
 "layer":[
  {"data":{"name":"Tc"},"mark":{"type":"line","strokeWidth":2.3},
   "encoding":{
    "x":{"field":"t","type":"quantitative","scale":{"domain":[-6.6,142.5],"nice":false,"zero":false},"axis":{"orient":"bottom","values":[0,50,100],"labels":false,"title":null,"grid":true}},
    "y":{"field":"v","type":"quantitative","scale":{"domain":[18.67,85.93],"nice":false,"zero":false},"axis":{"orient":"left","values":[20,30,40,50,60,70,80],"labels":false,"title":null,"grid":true}},
    "color":{"field":"s","type":"nominal","scale":{"domain":["HIP (packed FP32)","HIP","SYCL (icpx)","SYCL (acpp, packed FP32)","SYCL (acpp)"],"range":["#ff5722","#20a87c","#2962ff","#000000","#ffab00"]},
      "legend":{"orient":"bottom-right","offset":5,"title":null,"symbolType":"M-3,0H3","symbolSize":144,"symbolStrokeWidth":2.3,"symbolOffset":10,"labelOffset":20,"rowPadding":4.5,"padding":5,"fillColor":"white","strokeColor":"#cccccc","cornerRadius":3,"labelFont":"Liberation Sans","labelFontSize":11.5,"labelColor":"black","labelLimit":300}},
    "detail":{"field":"r","type":"nominal"},
    "opacity":{"field":"k","type":"ordinal","scale":{"domain":["main","rep"],"range":[1,0.35]},"legend":null}}},
  {"data":{"values":[]},"mark":"point","encoding":{
    "x":{"field":"t","type":"quantitative","scale":{"domain":[-6.6,142.5],"nice":false,"zero":false},"axis":{"orient":"top","values":[0,50,100],"labels":false,"title":null,"grid":false}},
    "y":{"field":"v","type":"quantitative","scale":{"domain":[18.67,85.93],"nice":false,"zero":false},"axis":{"orient":"right","values":[20,30,40,50,60,70,80],"labels":false,"title":null,"grid":false}}}}
 ],
 "resolve":{"axis":{"x":"independent","y":"independent"}}},
{"width":340,"height":340,"title":{"text":"(d)","fontWeight":"bold"},
 "layer":[
  {"data":{"values":[{"v":900}]},"mark":{"type":"rule","color":"black","strokeWidth":1.6,"strokeDash":[8,6]},"encoding":{"y":{"field":"v","type":"quantitative","scale":{"domain":[81,1084.7],"nice":false,"zero":false},"axis":null}}},
  {"data":{"values":[{"v":700}]},"mark":{"type":"rule","color":"black","strokeWidth":1.6,"strokeDash":[1.5,2.5]},"encoding":{"y":{"field":"v","type":"quantitative","scale":{"domain":[81,1084.7],"nice":false,"zero":false},"axis":null}}},
  {"data":{"name":"Pd"},"mark":{"type":"line","strokeWidth":2.3},
   "encoding":{
    "x":{"field":"t","type":"quantitative","scale":{"domain":[-9.15,189.1],"nice":false,"zero":false},"axis":{"orient":"bottom","values":[0,50,100,150],"labels":false,"title":null,"grid":true}},
    "y":{"field":"v","type":"quantitative","scale":{"domain":[81,1084.7],"nice":false,"zero":false},"axis":{"orient":"left","values":[200,400,600,800,1000],"format":"d","title":"P [W]","grid":true}},
    "color":{"field":"s","type":"nominal","scale":{"domain":["CUDA","SYCL (acpp)","Kokkos/CUDA","OpenMP (loop)","OpenMP (distribute)"],"range":["#1aa37a","#000000","#4fc3f7","#8b4513","#ffe600"]},"legend":null},
    "detail":{"field":"r","type":"nominal"},
    "opacity":{"field":"k","type":"ordinal","scale":{"domain":["main","rep"],"range":[1,0.35]},"legend":null}}},
  {"data":{"values":[]},"mark":"point","encoding":{
    "x":{"field":"t","type":"quantitative","scale":{"domain":[-9.15,189.1],"nice":false,"zero":false},"axis":{"orient":"top","values":[0,50,100,150],"labels":false,"title":null,"grid":false}},
    "y":{"field":"v","type":"quantitative","scale":{"domain":[81,1084.7],"nice":false,"zero":false},"axis":{"orient":"right","values":[200,400,600,800,1000],"labels":false,"title":null,"grid":false}}}}
 ],
 "resolve":{"axis":{"x":"independent","y":"independent"}}},
{"width":340,"height":340,"title":{"text":"(e)"},
 "layer":[
  {"data":{"values":[{"v":1000}]},"mark":{"type":"rule","color":"black","strokeWidth":1.6,"strokeDash":[1.5,2.5]},"encoding":{"y":{"field":"v","type":"quantitative","scale":{"domain":[81,1084.7],"nice":false,"zero":false},"axis":null}}},
  {"data":{"name":"Pe"},"mark":{"type":"line","strokeWidth":2.3},
   "encoding":{
    "x":{"field":"t","type":"quantitative","scale":{"domain":[-6.0,124.3],"nice":false,"zero":false},"axis":{"orient":"bottom","values":[0,50,100],"labels":false,"title":null,"grid":true}},
    "y":{"field":"v","type":"quantitative","scale":{"domain":[81,1084.7],"nice":false,"zero":false},"axis":{"orient":"left","values":[200,400,600,800,1000],"labels":false,"title":null,"grid":true}},
    "color":{"field":"s","type":"nominal","scale":{"domain":["Kokkos/CUDA"],"range":["#4fc3f7"]},"legend":null},
    "detail":{"field":"r","type":"nominal"}}},
  {"data":{"values":[]},"mark":"point","encoding":{
    "x":{"field":"t","type":"quantitative","scale":{"domain":[-6.0,124.3],"nice":false,"zero":false},"axis":{"orient":"top","values":[0,50,100],"labels":false,"title":null,"grid":false}},
    "y":{"field":"v","type":"quantitative","scale":{"domain":[81,1084.7],"nice":false,"zero":false},"axis":{"orient":"right","values":[200,400,600,800,1000],"labels":false,"title":null,"grid":false}}}}
 ],
 "resolve":{"axis":{"x":"independent","y":"independent"}}},
{"width":340,"height":340,"title":{"text":"(f)"},
 "layer":[
  {"data":{"values":[{"v":760}]},"mark":{"type":"rule","color":"black","strokeWidth":1.6,"strokeDash":[8,6]},"encoding":{"y":{"field":"v","type":"quantitative","scale":{"domain":[81,1084.7],"nice":false,"zero":false},"axis":null}}},
  {"data":{"name":"Pf"},"mark":{"type":"line","strokeWidth":2.3},
   "encoding":{
    "x":{"field":"t","type":"quantitative","scale":{"domain":[-6.6,142.5],"nice":false,"zero":false},"axis":{"orient":"bottom","values":[0,50,100],"labels":false,"title":null,"grid":true}},
    "y":{"field":"v","type":"quantitative","scale":{"domain":[81,1084.7],"nice":false,"zero":false},"axis":{"orient":"left","values":[200,400,600,800,1000],"labels":false,"title":null,"grid":true}},
    "color":{"field":"s","type":"nominal","scale":{"domain":["HIP (packed FP32)","HIP","SYCL (icpx)","SYCL (acpp, packed FP32)","SYCL (acpp)"],"range":["#ff5722","#20a87c","#2962ff","#000000","#ffab00"]},"legend":null},
    "detail":{"field":"r","type":"nominal"}}},
  {"data":{"values":[]},"mark":"point","encoding":{
    "x":{"field":"t","type":"quantitative","scale":{"domain":[-6.6,142.5],"nice":false,"zero":false},"axis":{"orient":"top","values":[0,50,100],"labels":false,"title":null,"grid":false}},
    "y":{"field":"v","type":"quantitative","scale":{"domain":[81,1084.7],"nice":false,"zero":false},"axis":{"orient":"right","values":[200,400,600,800,1000],"labels":false,"title":null,"grid":false}}}}
 ],
 "resolve":{"axis":{"x":"independent","y":"independent"}}},
{"width":340,"height":340,"title":{"text":"(g)","font":"Liberation Serif","fontWeight":"bold"},
 "layer":[
  {"data":{"values":[{"v":1.98}]},"mark":{"type":"rule","color":"black","strokeWidth":1.6,"strokeDash":[1.5,2.5]},"encoding":{"y":{"field":"v","type":"quantitative","scale":{"domain":[1.4421,2.1786],"nice":false,"zero":false},"axis":null}}},
  {"data":{"name":"Fg"},"mark":{"type":"line","strokeWidth":2.3},
   "encoding":{
    "x":{"field":"t","type":"quantitative","scale":{"domain":[-9.15,189.1],"nice":false,"zero":false},"axis":{"orient":"bottom","values":[0,50,100,150],"format":"d","title":"t [s]","titlePadding":1,"grid":true}},
    "y":{"field":"v","type":"quantitative","scale":{"domain":[1.4421,2.1786],"nice":false,"zero":false},"axis":{"orient":"left","values":[1.5,1.6,1.7,1.8,1.9,2.0,2.1],"format":".1f","title":"f [GHz]","grid":true}},
    "color":{"field":"s","type":"nominal","scale":{"domain":["CUDA","SYCL (acpp)","Kokkos/CUDA","OpenMP (loop)","OpenMP (distribute)"],"range":["#1aa37a","#000000","#4fc3f7","#8b4513","#ffe600"]},"legend":null},
    "detail":{"field":"r","type":"nominal"}}},
  {"data":{"values":[]},"mark":"point","encoding":{
    "x":{"field":"t","type":"quantitative","scale":{"domain":[-9.15,189.1],"nice":false,"zero":false},"axis":{"orient":"top","values":[0,50,100,150],"labels":false,"title":null,"grid":false}},
    "y":{"field":"v","type":"quantitative","scale":{"domain":[1.4421,2.1786],"nice":false,"zero":false},"axis":{"orient":"right","values":[1.5,1.6,1.7,1.8,1.9,2.0,2.1],"labels":false,"title":null,"grid":false}}}}
 ],
 "resolve":{"axis":{"x":"independent","y":"independent"}}},
{"width":340,"height":340,"title":{"text":"(h)","font":"Liberation Serif"},
 "layer":[
  {"data":{"values":[{"v":1.965}]},"mark":{"type":"rule","color":"black","strokeWidth":1.6,"strokeDash":[1.5,2.5]},"encoding":{"y":{"field":"v","type":"quantitative","scale":{"domain":[1.4421,2.1786],"nice":false,"zero":false},"axis":null}}},
  {"data":{"name":"Fh"},"mark":{"type":"line","strokeWidth":2.3},
   "encoding":{
    "x":{"field":"t","type":"quantitative","scale":{"domain":[-6.0,124.3],"nice":false,"zero":false},"axis":{"orient":"bottom","values":[0,50,100],"format":"d","title":"t [s]","titlePadding":1,"grid":true}},
    "y":{"field":"v","type":"quantitative","scale":{"domain":[1.4421,2.1786],"nice":false,"zero":false},"axis":{"orient":"left","values":[1.5,1.6,1.7,1.8,1.9,2.0,2.1],"labels":false,"title":null,"grid":true}},
    "color":{"field":"s","type":"nominal","scale":{"domain":["Kokkos/CUDA"],"range":["#4fc3f7"]},"legend":null},
    "detail":{"field":"r","type":"nominal"}}},
  {"data":{"values":[]},"mark":"point","encoding":{
    "x":{"field":"t","type":"quantitative","scale":{"domain":[-6.0,124.3],"nice":false,"zero":false},"axis":{"orient":"top","values":[0,50,100],"labels":false,"title":null,"grid":false}},
    "y":{"field":"v","type":"quantitative","scale":{"domain":[1.4421,2.1786],"nice":false,"zero":false},"axis":{"orient":"right","values":[1.5,1.6,1.7,1.8,1.9,2.0,2.1],"labels":false,"title":null,"grid":false}}}}
 ],
 "resolve":{"axis":{"x":"independent","y":"independent"}}},
{"width":340,"height":340,"title":{"text":"(i)","font":"Liberation Serif"},
 "layer":[
  {"data":{"values":[{"v":2.1}]},"mark":{"type":"rule","color":"black","strokeWidth":1.6,"strokeDash":[1.5,2.5]},"encoding":{"y":{"field":"v","type":"quantitative","scale":{"domain":[1.4421,2.1786],"nice":false,"zero":false},"axis":null}}},
  {"data":{"name":"Fi"},"mark":{"type":"line","strokeWidth":2.3},
   "encoding":{
    "x":{"field":"t","type":"quantitative","scale":{"domain":[-6.6,142.5],"nice":false,"zero":false},"axis":{"orient":"bottom","values":[0,50,100],"format":"d","title":"t [s]","titlePadding":1,"grid":true}},
    "y":{"field":"v","type":"quantitative","scale":{"domain":[1.4421,2.1786],"nice":false,"zero":false},"axis":{"orient":"left","values":[1.5,1.6,1.7,1.8,1.9,2.0,2.1],"labels":false,"title":null,"grid":true}},
    "color":{"field":"s","type":"nominal","scale":{"domain":["HIP (packed FP32)","HIP","SYCL (icpx)","SYCL (acpp, packed FP32)","SYCL (acpp)"],"range":["#ff5722","#20a87c","#2962ff","#000000","#ffab00"]},"legend":null},
    "detail":{"field":"r","type":"nominal"},
    "opacity":{"field":"k","type":"ordinal","scale":{"domain":["main","rep"],"range":[1,0.35]},"legend":null}}},
  {"data":{"values":[]},"mark":"point","encoding":{
    "x":{"field":"t","type":"quantitative","scale":{"domain":[-6.6,142.5],"nice":false,"zero":false},"axis":{"orient":"top","values":[0,50,100],"labels":false,"title":null,"grid":false}},
    "y":{"field":"v","type":"quantitative","scale":{"domain":[1.4421,2.1786],"nice":false,"zero":false},"axis":{"orient":"right","values":[1.5,1.6,1.7,1.8,1.9,2.0,2.1],"labels":false,"title":null,"grid":false}}}}
 ],
 "resolve":{"axis":{"x":"independent","y":"independent"}}}
],
"columns":3,
"spacing":0,
"bounds":"flush",
"align":"all",
"resolve":{"scale":{"color":"independent"},"legend":{"color":"independent"}},
"config":{
 "view":{"stroke":"black","strokeWidth":2},
 "axis":{"domain":false,"ticks":true,"tickColor":"black","tickWidth":1.8,"tickSize":-10,"labelPadding":12,"labelFont":"Liberation Serif","labelFontSize":19,"labelColor":"black","labelFlush":false,"labelOverlap":false,"titleFont":"Liberation Serif","titleFontSize":23,"titleFontWeight":"normal","titleColor":"black","titlePadding":4,"gridColor":"#bdbdbd","gridWidth":1},
 "title":{"anchor":"start","frame":"group","orient":"top","offset":-24,"dx":7,"font":"Liberation Sans","fontSize":14,"fontWeight":"normal","color":"black"}
}
}
